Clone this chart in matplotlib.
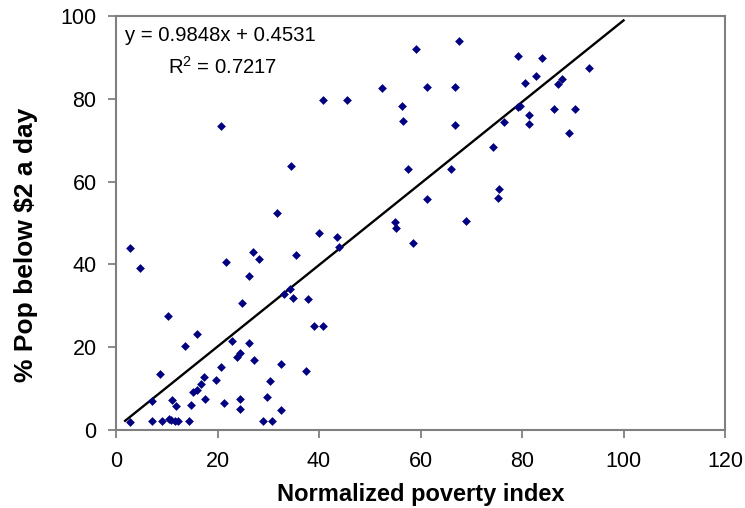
import numpy as np
import matplotlib
matplotlib.use('Agg')
import matplotlib.pyplot as plt

plt.rcParams['font.family'] = ['Liberation Sans', 'DejaVu Sans']

# normalized poverty index vs % pop below $2 a day
pov_idx = [59.1, 61.3, 52.5, 40.8, 45.6, 56.3, 56.5, 20.6, 34.5, 57.6,
           31.7, 55.0, 55.2, 67.6, 66.7, 79.3, 84.0, 82.7, 80.6, 87.9,
           87.0, 93.1, 66.7, 79.3, 79.6, 81.3, 81.3, 86.3, 90.4, 76.5,
           89.3, 74.2, 66.0, 75.4, 75.2, 68.9, 58.5,
           2.7, 4.8, 10.2, 15.9, 13.5, 8.6, 7.0, 2.7, 7.1, 9.1,
           10.4, 10.9, 11.6, 12.2, 14.4, 11.0, 11.9, 14.8, 15.2, 16.0,
           16.7, 17.4, 17.6, 19.8, 20.6, 21.2, 21.6, 22.9, 23.9, 24.4,
           24.4, 24.4, 24.8, 26.3, 26.3, 26.9, 28.2, 27.1, 28.9, 30.8,
           29.7, 30.3, 32.6, 32.6, 33.1, 34.2, 34.9, 35.5, 37.4, 37.8,
           39.1, 40.8, 39.9, 43.5, 43.9, 61.3]
pop_2day = [92.0, 82.8, 82.5, 79.6, 79.6, 78.3, 74.7, 73.4, 63.8, 63.0,
            52.5, 50.3, 48.9, 94.0, 82.8, 90.4, 89.8, 85.6, 83.8, 84.9,
            83.6, 87.5, 73.7, 78.1, 78.3, 76.0, 73.8, 77.6, 77.6, 74.4,
            71.8, 68.4, 63.0, 58.2, 56.0, 50.6, 45.1,
            43.9, 39.1, 27.5, 23.1, 20.4, 13.5, 7.1, 2.0, 2.1, 2.1,
            2.7, 2.4, 2.2, 2.2, 2.2, 7.2, 5.7, 6.0, 9.2, 9.7,
            11.0, 12.9, 7.6, 12.0, 15.2, 6.6, 40.7, 21.4, 17.7, 18.5,
            7.6, 5.1, 30.8, 37.1, 21.1, 42.9, 41.4, 16.9, 2.1, 2.1,
            7.9, 11.8, 15.9, 4.8, 32.9, 34.0, 32.0, 42.3, 14.2, 31.6,
            25.1, 25.1, 47.6, 46.7, 44.3, 55.8]

slope, intercept = 0.9848, 0.4531
fit_x = np.array([1.8, 100.0])

fig = plt.figure(figsize=(7.45, 5.08), dpi=100, facecolor='w')
ax = fig.add_axes([0.1557, 0.1535, 0.8175, 0.815])

ax.scatter(pov_idx, pop_2day, marker='D', s=20, color='#000080', zorder=3, linewidths=0)
ax.plot(fit_x, slope * fit_x + intercept, color='black', lw=1.7, zorder=2)

ax.set_xlim(0, 120)
ax.set_ylim(0, 100)
ax.set_xticks(np.arange(0, 121, 20))
ax.set_yticks(np.arange(0, 101, 20))
for s in ax.spines.values():
    s.set_color('#808080')
    s.set_linewidth(1.5)
ax.tick_params(direction='out', length=6, width=1.3, color='#808080', labelsize=15.5)
ax.tick_params(axis='x', pad=9)
ax.tick_params(axis='y', pad=8)

ax.set_xlabel('Normalized poverty index', fontsize=17, fontweight='bold', labelpad=8)
ax.set_ylabel('% Pop below $2 a day', fontsize=19, fontweight='bold', va='center')
ax.yaxis.set_label_coords(-0.148, 0.447)

ax.text(1.8, 95.2, 'y = 0.9848x + 0.4531', fontsize=14.6, va='center', ha='left')
ax.text(10.2, 87.8, '$\\mathregular{R^2}$ = 0.7217', fontsize=14.6, va='center', ha='left')

fig.savefig('out.png', dpi=100)
